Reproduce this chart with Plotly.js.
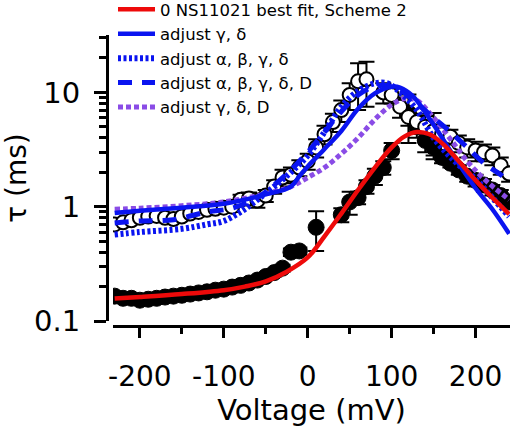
<!DOCTYPE html>
<html>
<head>
<meta charset="utf-8">
<script src="https://cdn.plot.ly/plotly-3.0.1.min.js"></script>
<style>html,body{margin:0;padding:0;background:#fff;}</style>
</head>
<body>
<div id="chart" style="width:520px;height:431px;"></div>
<script>
// ---- Data ----
// 0 NS11021 (filled circles)
const filledV   = [-230,-220,-210,-200,-190,-180,-170,-160,-150,-140,-130,-120,-110,-100,-90,-80,-70,-60,-50,-40,-30,-20,-10,10,40,50,60,70,80,90,100,120,130,140,150,160,170,180,190,200,210,220,230,240];
const filledTau = [0.165,0.158,0.158,0.152,0.155,0.158,0.162,0.165,0.168,0.172,0.176,0.18,0.186,0.19,0.198,0.205,0.215,0.228,0.245,0.265,0.29,0.40,0.41,0.66,0.85,1.1,1.2,1.5,1.85,2.2,3.1,6.6,5.0,3.8,3.3,2.7,2.4,2.1,1.85,1.7,1.55,1.4,1.25,1.1];
const filledErr = [0.01,0.01,0.01,0.01,0.01,0.01,0.01,0.01,0.01,0.01,0.01,0.01,0.01,0.01,0.01,0.01,0.01,0.01,0.015,0.02,0.02,0.03,0.03,0.25,0.12,0.25,0.15,0.2,0.3,0.3,0.5,3.0,1.0,0.8,0.5,0.3,0.2,0.2,0.2,0.2,0.2,0.15,0.15,0.1];

// with NS11021 (open circles)
const openV   = [-230,-220,-210,-200,-190,-180,-170,-160,-150,-140,-130,-120,-110,-100,-90,-80,-70,-60,-50,-40,-30,-20,-10,0,10,20,30,40,50,60,70,90,100,110,120,130,140,150,160,170,180,190,200,210,220,230,240];
const openTau = [0.70,0.73,0.76,0.80,0.82,0.83,0.80,0.78,0.82,0.87,0.90,0.94,0.96,0.98,1.0,1.15,1.18,1.13,1.25,1.5,1.8,1.9,2.2,2.5,3.3,4.3,5.5,7.0,9.5,12.5,13.0,10.0,9.5,7.5,6.1,5.5,5.0,4.6,4.3,4.1,3.6,3.3,3.1,3.0,2.8,2.3,1.95];
const openErr = [0.05,0.05,0.05,0.05,0.06,0.06,0.06,0.06,0.06,0.07,0.07,0.08,0.08,0.1,0.1,0.12,0.15,0.15,0.15,0.2,0.3,0.3,0.35,0.4,0.6,0.8,1.0,1.5,2.5,5.5,5.5,2.0,1.5,1.5,1.0,1.0,1.2,2.0,0.8,0.6,0.6,0.6,0.6,0.5,0.5,0.4,0.3];

// Fits
const redV   = [-230,-200,-150,-100,-75,-50,-25,0,20,40,60,80,100,115,130,145,160,180,200,220,240];
const redTau = [0.157,0.162,0.172,0.186,0.20,0.222,0.27,0.36,0.55,0.87,1.4,2.2,3.3,4.1,4.5,4.3,3.6,2.5,1.7,1.2,0.86];

const solidV   = [-230,-200,-150,-100,-50,-20,-10,0,20,40,60,80,100,110,125,150,175,200,220,240];
const solidTau = [0.88,0.92,0.98,1.06,1.28,1.5,1.85,2.25,3.2,4.6,7.2,9.8,11.2,11.0,9.3,5.2,2.7,1.45,0.95,0.58];

const dotV   = [-230,-200,-150,-120,-100,-80,-60,-40,-20,0,20,40,60,80,95,110,130,150,175,200,220,240];
const dotTau = [0.57,0.60,0.64,0.70,0.75,0.90,1.15,1.5,2.0,2.8,4.5,7.5,10.3,12.0,12.0,10.0,7.0,4.0,2.5,1.75,1.2,0.82];

const dashV   = [-230,-200,-160,-120,-90,-60,-40,-20,0,20,40,60,80,95,110,130,150,170,190,210,230,240];
const dashTau = [0.72,0.75,0.77,0.90,0.97,1.2,1.55,2.1,3.0,4.5,6.8,9.5,11.3,11.5,10.5,8.0,6.0,4.5,3.3,2.4,1.9,1.65];

const purpV   = [-230,-200,-150,-100,-50,-20,0,20,40,60,80,100,115,130,150,170,190,210,240];
const purpTau = [0.95,0.97,1.02,1.10,1.3,1.5,1.8,2.2,2.9,4.0,5.8,7.8,8.8,8.5,6.0,3.9,2.5,1.75,1.15];

const legendNames = ['0 NS11021 best fit, Scheme 2','adjust γ, δ','adjust α, β, γ, δ','adjust α, β, γ, δ, D','adjust γ, δ, D'];

const xTickVals = [-200,-100,0,100,200];
const xTickText = ['-200','-100','0','100','200'];
const xMinorVals = [-150,-50,50,150];
const yTickVals = [0.1,1,10];
const yTickText = ['0.1','1','10'];
const yMinorVals = [0.2,0.3,0.4,0.5,0.6,0.7,0.8,0.9,2,3,4,5,6,7,8,9,20,30];

// ---- Traces ----
const BLUE = '#0a14f0', RED = '#ee0a0a', PURPLE = '#8a4ce6';
const traces = [
  {x: filledV, y: filledTau, type:'scatter', mode:'markers', showlegend:false,
   marker:{symbol:'circle', size:16, color:'black', line:{color:'black', width:1}},
   error_y:{type:'data', array: filledErr, color:'black', thickness:2, width:8}},
  {x: openV, y: openTau, type:'scatter', mode:'markers', showlegend:false,
   marker:{symbol:'circle', size:14, color:'white', line:{color:'black', width:2}},
   error_y:{type:'data', array: openErr, color:'black', thickness:2, width:8}},
  {x: purpV, y: purpTau, type:'scatter', mode:'lines', name: legendNames[4], legendrank:5,
   line:{color:PURPLE, width:5, dash:'5px,3px', shape:'spline', smoothing:1}},
  {x: dashV, y: dashTau, type:'scatter', mode:'lines', name: legendNames[3], legendrank:4,
   line:{color:BLUE, width:5, dash:'14px,10px', shape:'spline', smoothing:1}},
  {x: dotV, y: dotTau, type:'scatter', mode:'lines', name: legendNames[2], legendrank:3,
   line:{color:BLUE, width:6, dash:'3px,2.5px', shape:'spline', smoothing:1}},
  {x: solidV, y: solidTau, type:'scatter', mode:'lines', name: legendNames[1], legendrank:2,
   line:{color:BLUE, width:4.5, shape:'spline', smoothing:1}},
  {x: redV, y: redTau, type:'scatter', mode:'lines', name: legendNames[0], legendrank:1,
   line:{color:RED, width:4.5, shape:'spline', smoothing:1}}
];

const W = 520, H = 431;
const M = {l:107, r:10, t:35, b:105};
const PW = W - M.l - M.r, PH = H - M.t - M.b;

const layout = {
  width: W, height: H,
  margin: {l:M.l, r:M.r, t:M.t, b:M.b, autoexpand:false},
  paper_bgcolor:'white', plot_bgcolor:'white',
  font:{family:'DejaVu Sans, Arial, sans-serif', color:'black'},
  showlegend:true,
  legend:{x: 6/PW, y: 1 + 43/PH, xanchor:'left', yanchor:'top', bgcolor:'rgba(0,0,0,0)',
          font:{size:16.5, color:'black'}, traceorder:'normal', tracegroupgap:0, itemwidth:37},
  xaxis:{
    range:[-232,241], domain:[6/PW, 1], anchor:'free', position:0,
    showline:true, linewidth:3, linecolor:'black', showgrid:false, zeroline:false,
    ticks:'outside', ticklen:10, tickwidth:3, tickcolor:'black',
    tickvals:xTickVals, ticktext:xTickText, tickfont:{size:28}, ticklabelstandoff:14,
    minor:{tickvals:xMinorVals, ticks:'outside', ticklen:6, tickwidth:3, tickcolor:'black', showgrid:false},
    title:{text:'Voltage (mV)', font:{size:29}, standoff:6}
  },
  yaxis:{
    type:'log', range:[-1, 1.502], domain:[5/PH, 1], anchor:'free', position:0,
    showline:true, linewidth:3, linecolor:'black', showgrid:false, zeroline:false,
    ticks:'outside', ticklen:12, tickwidth:3, tickcolor:'black',
    tickvals:yTickVals, ticktext:yTickText, tickfont:{size:29}, ticklabelstandoff:8,
    minor:{tickvals:yMinorVals, ticks:'outside', ticklen:7, tickwidth:3, tickcolor:'black', showgrid:false},
    title:{text:'τ (ms)', font:{size:28}, standoff:8}
  }
};

Plotly.newPlot('chart', traces, layout, {displayModeBar:false, staticPlot:true});
</script>
</body>
</html>
